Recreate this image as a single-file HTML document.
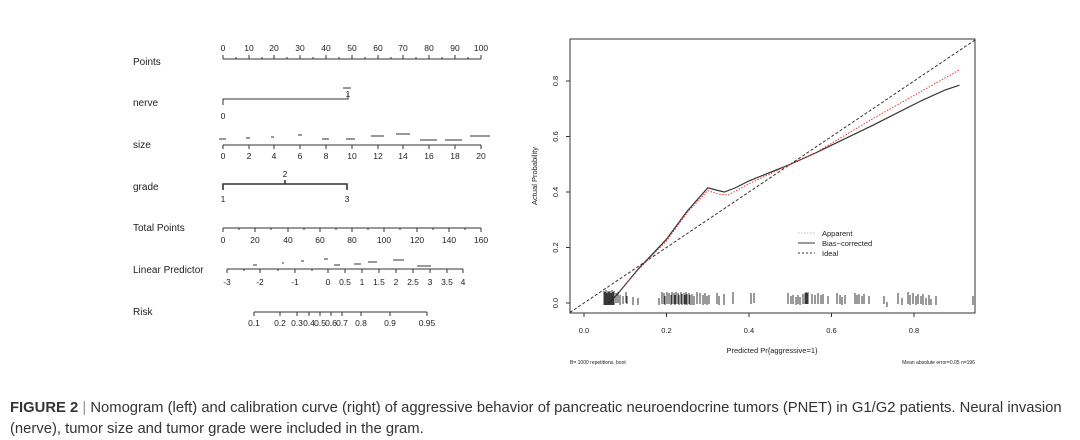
<!DOCTYPE html>
<html><head><meta charset="utf-8"><style>
body{margin:0;background:#fff;width:1080px;height:440px;overflow:hidden}
svg{position:absolute;left:0;top:0}
.cap{position:absolute;left:10px;top:398px;width:1075px;font-family:"Liberation Sans",sans-serif;font-size:14.8px;line-height:20.5px;color:#333;white-space:nowrap}
</style></head><body>
<svg width="1080" height="440" font-family="Liberation Sans, sans-serif" fill="#222">
<g stroke="#333" stroke-width="1" fill="none">
<path d="M223 59H481"/>
<path d="M223 59v-4M249 59v-4M274 59v-4M300 59v-4M326 59v-4M352 59v-4M378 59v-4M403 59v-4M429 59v-4M455 59v-4M481 59v-4"/>
<path d="M236 59v-2M262 59v-2M287 59v-2M313 59v-2M339 59v-2M365 59v-2M391 59v-2M416 59v-2M442 59v-2M468 59v-2"/>
<path d="M223 105V99H348V93"/><path d="M343 88h8"/>
<path d="M223 145H481"/>
<path d="M223 145v4M249 145v4M274 145v4M300 145v4M326 145v4M352 145v4M378 145v4M403 145v4M429 145v4M455 145v4M481 145v4"/>
<path d="M219 139h7M246 138h4M271 137h3M298 135h4M322 139h7M346 139h9M371 136h13M396 134h14M420 140h17M445 140h17M470 136h20"/>
<path d="M223 190V184H347V190M285 184V180" stroke-width="1.6"/>
<path d="M223 228H481"/>
<path d="M223 228v4M255 228v4M288 228v4M320 228v4M352 228v4M384 228v4M417 228v4M449 228v4M481 228v4"/>
<path d="M239 228v2M271 228v2M304 228v2M336 228v2M368 228v2M400 228v2M433 228v2M465 228v2"/>
<path d="M227 269H463"/>
<path d="M227 269v4M244 269v2M260 269v4M278 269v2M295 269v4M312 269v2M328 269v4M345 269v4M362 269v4M379 269v4M396 269v4M413 269v4M430 269v4M447 269v4M463 269v4"/>
<path d="M253 265h4M282 263h2M301 261h3M324 259h4M334 265h6M354 264h7M368 262h9M393 260h11M417 266h14"/>
<path d="M254 312H427M254 312v4M280 312v4M297 312v4M309 312v4M320 312v4M331 312v4M342 312v4M361 312v4M390 312v4M427 312v4"/>
</g>
<g font-size="10">
<text x="133" y="65">Points</text><text x="133" y="106">nerve</text><text x="133" y="148">size</text>
<text x="133" y="190">grade</text><text x="133" y="231">Total Points</text><text x="133" y="273">Linear Predictor</text><text x="133" y="315">Risk</text>
</g>
<g font-size="8.5" text-anchor="middle">
<text x="223" y="51">0</text><text x="249" y="51">10</text><text x="274" y="51">20</text><text x="300" y="51">30</text><text x="326" y="51">40</text><text x="352" y="51">50</text><text x="378" y="51">60</text><text x="403" y="51">70</text><text x="429" y="51">80</text><text x="455" y="51">90</text><text x="481" y="51">100</text>
<text x="348" y="97">1</text><text x="223" y="119">0</text>
<text x="223" y="159">0</text><text x="249" y="159">2</text><text x="274" y="159">4</text><text x="300" y="159">6</text><text x="326" y="159">8</text><text x="352" y="159">10</text><text x="378" y="159">12</text><text x="403" y="159">14</text><text x="429" y="159">16</text><text x="455" y="159">18</text><text x="481" y="159">20</text>
<text x="285" y="177">2</text><text x="223" y="202">1</text><text x="347" y="202">3</text>
<text x="223" y="243">0</text><text x="255" y="243">20</text><text x="288" y="243">40</text><text x="320" y="243">60</text><text x="352" y="243">80</text><text x="384" y="243">100</text><text x="417" y="243">120</text><text x="449" y="243">140</text><text x="481" y="243">160</text>
<text x="227" y="285">-3</text><text x="260" y="285">-2</text><text x="295" y="285">-1</text><text x="328" y="285">0</text><text x="345" y="285">0.5</text><text x="362" y="285">1</text><text x="379" y="285">1.5</text><text x="396" y="285">2</text><text x="413" y="285">2.5</text><text x="430" y="285">3</text><text x="447" y="285">3.5</text><text x="463" y="285">4</text>
<text x="254" y="326">0.1</text><text x="280" y="326">0.2</text><text x="297" y="326">0.3</text><text x="309" y="326">0.4</text><text x="320" y="326">0.5</text><text x="331" y="326">0.6</text><text x="342" y="326">0.7</text><text x="361" y="326">0.8</text><text x="390" y="326">0.9</text><text x="427" y="326">0.95</text>
</g>
<rect x="570" y="39" width="405" height="274" fill="none" stroke="#333"/>
<g stroke="#333" fill="none">
<path d="M584 313v4M666.5 313v4M749 313v4M831.5 313v4M914 313v4"/>
<path d="M570 303h-4M570 247.5h-4M570 192h-4M570 136.5h-4M570 81h-4"/>
<path d="M570 312.4L975 40" stroke-dasharray="3,2"/>
<path d="M608.8 303L617 294.7L637.6 269.7L666.5 239.2L687 211.4L707.8 187.8L716 190L724.3 192L735 188L749 180.9L790.3 164.3L815 153.2L872.8 125.3L922 100.4L945 90L959.4 85.2" stroke-width="1.2"/>
<path d="M611 301L637.6 270.5L666.5 241L687 213L707.8 190.6L718 194L728.4 195L749 183.7L790.3 164.3L815 153.2L872.8 118.7L959.4 69.9" stroke="#e33" stroke-dasharray="1.5,1.5"/>
<path d="M798 233h17" stroke="#bbb" stroke-dasharray="1.5,1.5"/><path d="M798 243h17"/><path d="M798 253h17" stroke-dasharray="2,2"/>
<g stroke="#222" stroke-width="0.9">
<path d="M604 291v14M605 292v13M606 290v15M607 293v12M608 291v14M609 292v13M610 291v14M611 293v12M612 290v15M613 292v13M614 291v14M616 293v10M618 292v11M620 295v10M623 296v8M626 292v11M627 296v8M633 297v8M638 298v7M659 298v7M662 292v12M664 293v11M665 296v9M667 292v12M669 293v11M671 295v10M672 292v12M674 293v11M675 295v10M676 292v12M678 293v11M679 295v10M681 292v12M682 294v11M684 293v11M685 295v10M686 292v12M687 294v11M689 293v11M690 295v10M692 294v11M694 296v9M697 292v12M700 293v11M703 295v10M705 293v11M707 296v9M709 295v9M717 293v11M719 296v9M724 294v11M733 292v12M751 293v11M754 293v10M788 293v11M791 296v8M793 295v9M796 297v8M798 295v9M800 297v8M803 294v10M805 293v11M806 292v12M807 293v11M808 292v12M812 294v10M815 295v9M818 293v11M821 295v9M823 294v10M828 296v8M837 293v11M840 295v9M842 297v8M845 295v9M855 293v11M857 295v9M859 294v10M862 296v8M864 294v10M869 296v8M884 296v8M887 302v5M898 293v11M902 298v7M908 292v12M910 295v10M913 293v11M916 296v9M918 294v10M921 296v8M923 294v11M926 298v7M929 295v10M931 299v6M936 296v9M973 296v9"/>
</g>
</g>
<g font-size="7.5" text-anchor="middle">
<text x="584" y="333">0.0</text><text x="666.5" y="333">0.2</text><text x="749" y="333">0.4</text><text x="831.5" y="333">0.6</text><text x="914" y="333">0.8</text>
<text transform="translate(558,303) rotate(-90)">0.0</text><text transform="translate(558,247.5) rotate(-90)">0.2</text><text transform="translate(558,192) rotate(-90)">0.4</text><text transform="translate(558,136.5) rotate(-90)">0.6</text><text transform="translate(558,81) rotate(-90)">0.8</text>
<text transform="translate(537,176) rotate(-90)">Actual Probability</text>
<text x="772" y="353">Predicted Pr{aggressive=1}</text>
</g>
<g font-size="7.5"><text x="822" y="236">Apparent</text><text x="822" y="246">Bias−corrected</text><text x="822" y="256">Ideal</text></g>
<g font-size="5"><text x="570" y="364">B= 1000 repetitions, boot</text><text x="975" y="364" text-anchor="end">Mean absolute error=0.05 n=196</text></g>
</svg>
<div class="cap"><b>FIGURE 2</b> <span style="color:#999">|</span> Nomogram (left) and calibration curve (right) of aggressive behavior of pancreatic neuroendocrine tumors (PNET) in G1/G2 patients. Neural invasion<br>(nerve), tumor size and tumor grade were included in the gram.</div>
</body></html>
